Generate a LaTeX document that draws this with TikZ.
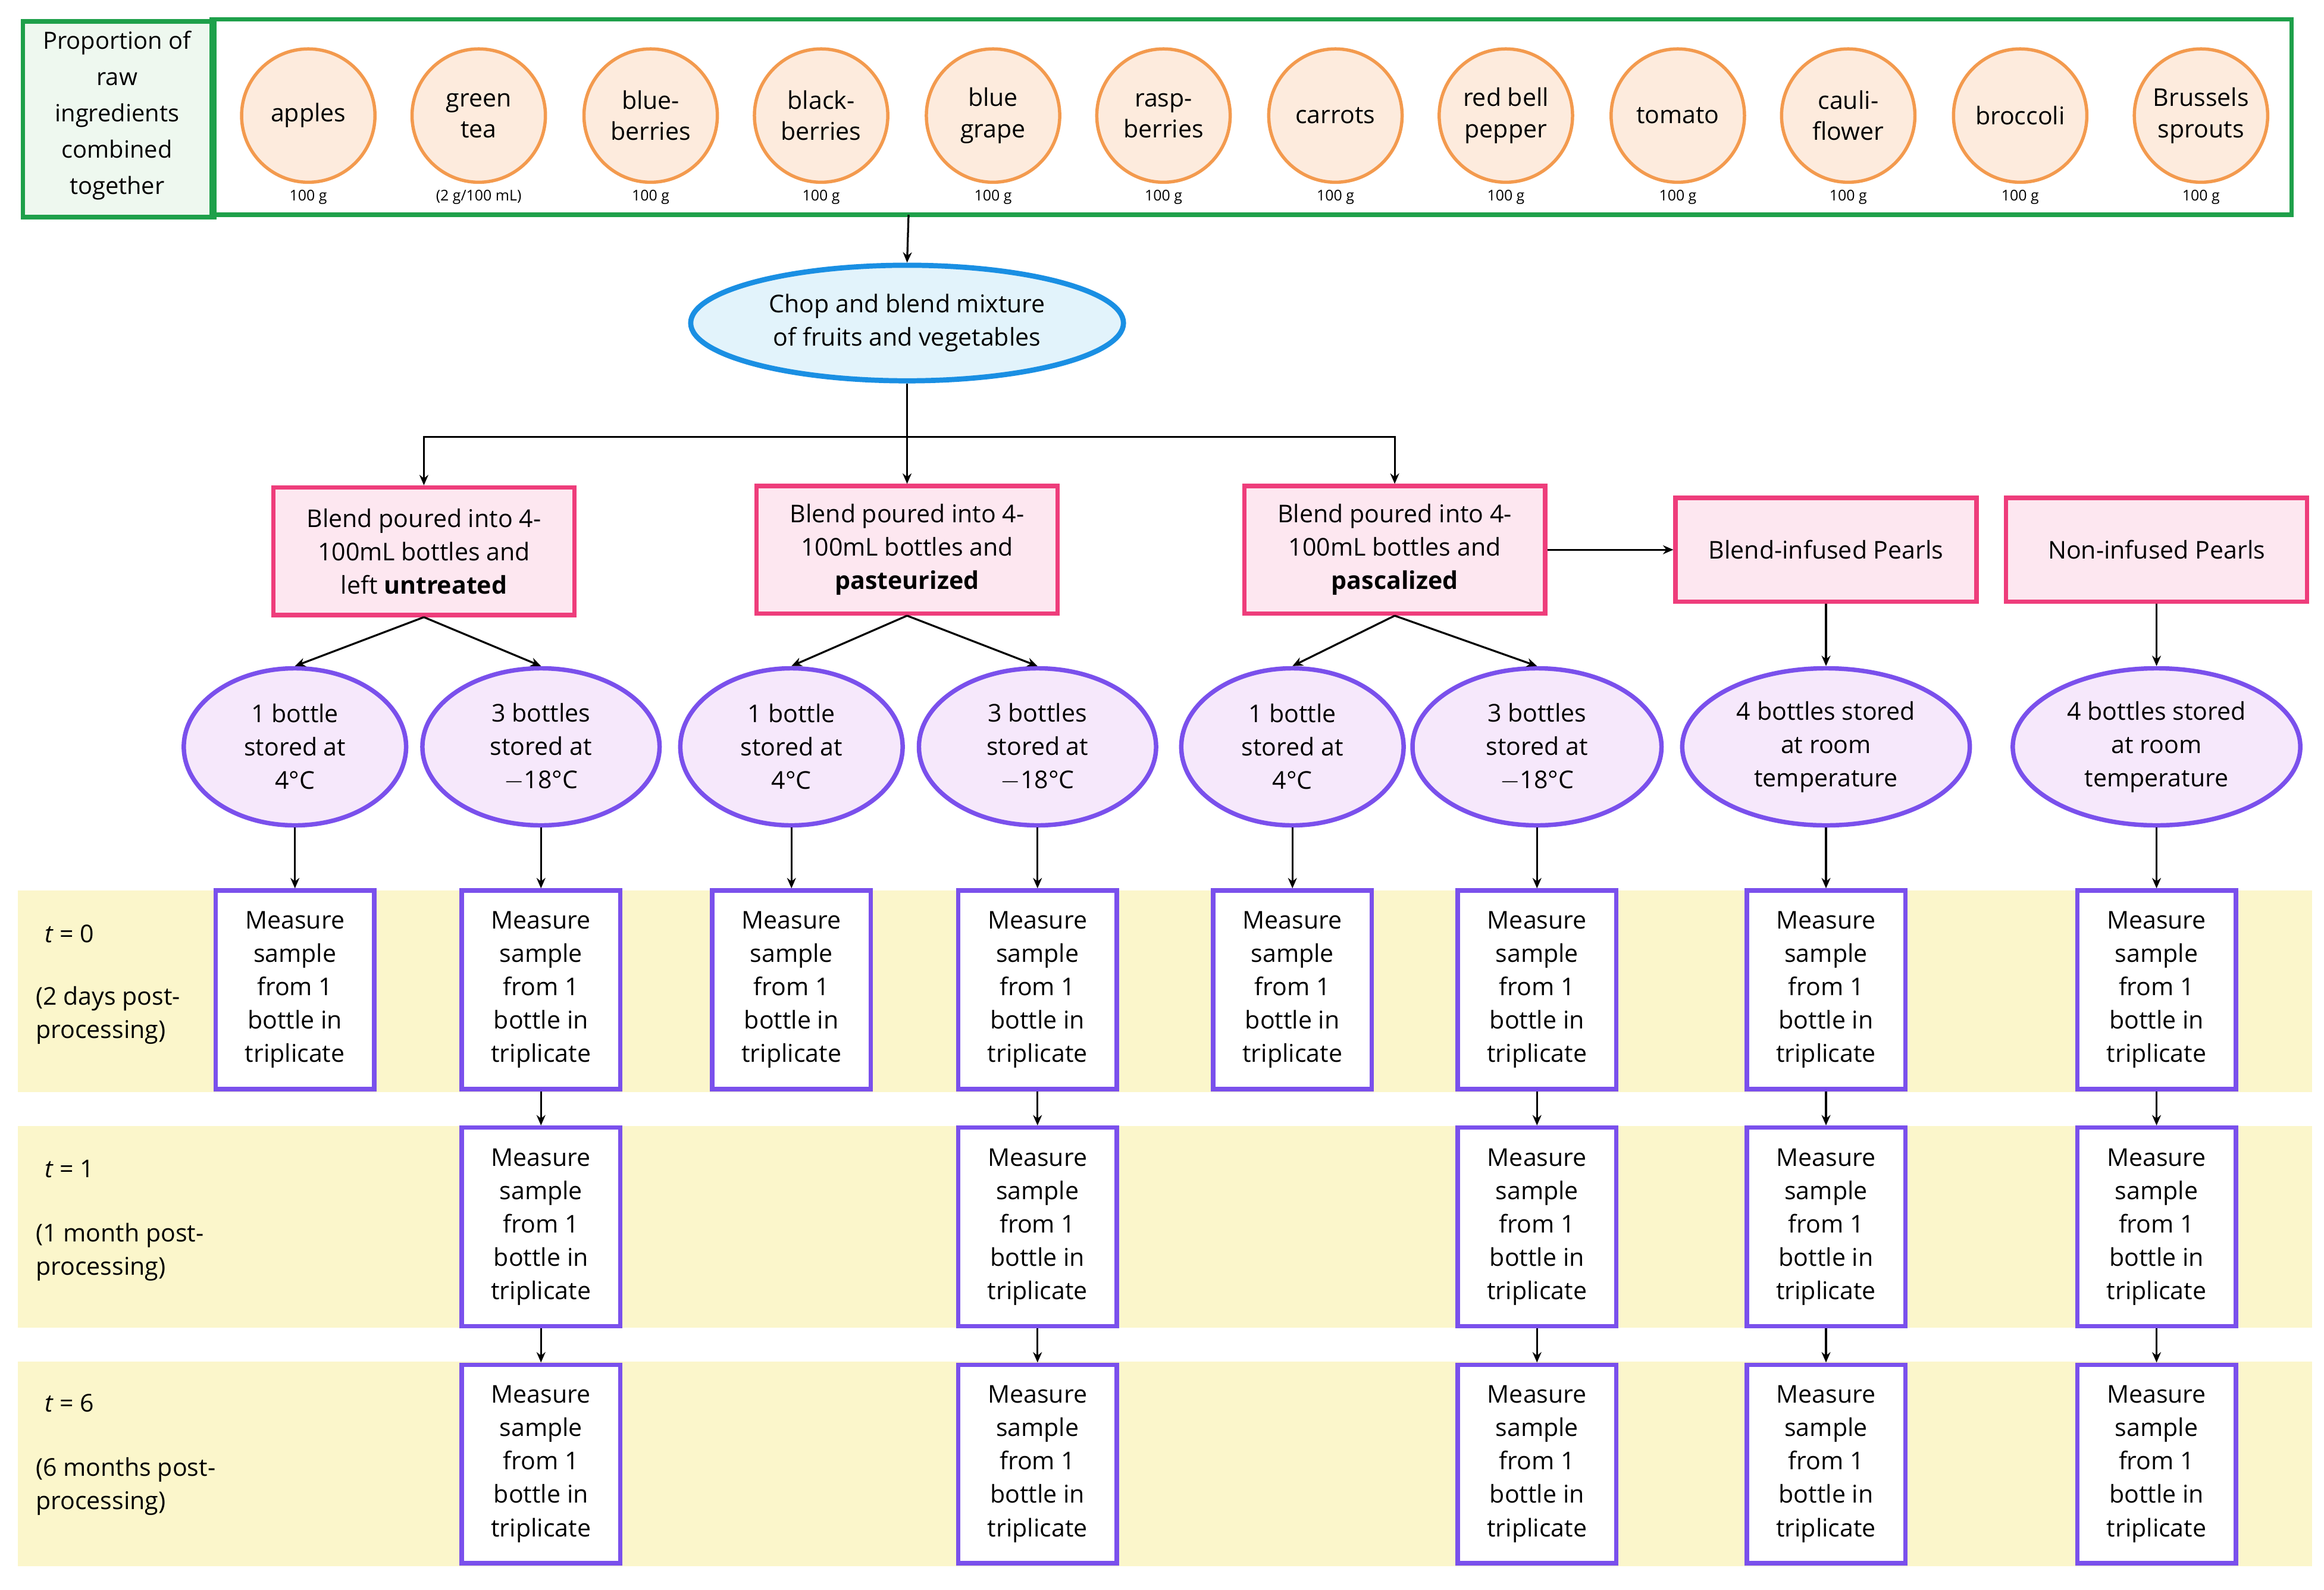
\documentclass[tikz,border=0pt]{standalone}
\usepackage{fontspec}
\setmainfont{Open Sans}
\usetikzlibrary{arrows.meta,shapes.geometric}
\definecolor{gr}{HTML}{1EA04A}
\definecolor{ing}{HTML}{FDEBDD}\definecolor{ingd}{HTML}{F39A4E}
\definecolor{blf}{HTML}{E2F3FB}\definecolor{bld}{HTML}{1A8FE3}
\definecolor{pkf}{HTML}{FDE7F0}\definecolor{pkd}{HTML}{EE3D7B}
\definecolor{puf}{HTML}{F6E8FB}\definecolor{pud}{HTML}{7A50EC}
\definecolor{yel}{HTML}{FBF6CB}
\definecolor{grf}{HTML}{EEF8EF}
\begin{document}
\begin{tikzpicture}[x=1pt,y=-1pt,
 every node/.style={font=\fontsize{16.5}{22.5}\selectfont,align=center,inner sep=0pt},
 ingc/.style={circle,draw=ingd,line width=2.2pt,fill=ing,minimum size=90pt,font=\fontsize{16.5}{21}\selectfont},
 wt/.style={font=\fontsize{10}{12}\selectfont},
 pk/.style={draw=pkd,line width=3pt,fill=pkf,minimum width=203pt},
 pe/.style={ellipse,draw=pud,line width=3pt,fill=puf,minimum width=150pt,minimum height=106pt},
 pew/.style={pe,minimum width=194pt},
 ms/.style={draw=pud,line width=3pt,fill=white,minimum width=107pt,minimum height=134pt},
 ar/.style={-{Stealth[length=7pt,width=6pt]},line width=1.3pt},
 ln/.style={line width=1.3pt}]
\useasboundingbox (0,0) rectangle (1568,1073);
\fill[white] (0,0) rectangle (1568,1073);
% bands
\foreach \a/\b in {601/737,760/896,919/1057}{\fill[yel] (12,\a) rectangle (1560,\b);}
% top
\node[draw=gr,line width=3pt,fill=grf,minimum width=129pt,minimum height=132pt,anchor=north west] (lab) at (14,13) {};
\node[font=\fontsize{16}{24.5}\selectfont] at (79,78) {Proportion of\\raw\\ingredients\\combined\\together};
\draw[gr,line width=3pt] (143,13) rectangle (1546,145);
\coordinate (topb) at (613,145);
\foreach \x/\t/\w [count=\i] in {208/apples/100 g,323/{green\\tea}/{(2 g/100 mL)},439/{blue-\\berries}/100 g,554/{black-\\berries}/100 g,670/{blue\\grape}/100 g,785/{rasp-\\berries}/100 g,901/carrots/100 g,1016/{red bell\\pepper}/100 g,1132/tomato/100 g,1247/{cauli-\\flower}/100 g,1363/broccoli/100 g,1485/{Brussels\\sprouts}/100 g}{
 \node[ingc] (c\i) at (\x,78) {\t};
 \node[wt] at (\x,133) {\w};}
\node[ellipse,draw=bld,line width=3.5pt,fill=blf,minimum width=292pt,minimum height=78pt] (chop) at (612,218) {Chop and blend mixture\\of fruits and vegetables};
\draw[ar] (topb) -- (chop.north);
% pink boxes
\node[pk,minimum height=86pt] (b1) at (286,372) {Blend poured into 4-\\100mL bottles and\\left \textbf{untreated}};
\node[pk,minimum height=86pt] (b2) at (612,371) {Blend poured into 4-\\100mL bottles and\\\textbf{pasteurized}};
\node[pk,minimum height=86pt] (b3) at (941,371) {Blend poured into 4-\\100mL bottles and\\\textbf{pascalized}};
\node[pk,minimum height=70pt] (b4) at (1232,371) {Blend-infused Pearls};
\node[pk,minimum height=70pt] (b5) at (1455,371) {Non-infused Pearls};
\coordinate (j) at (612,295);
\draw[ln] (chop.south) -- (j);
\draw[ar] (j) -- (b2.north);
\draw[ar] (j) -| (b1.north);
\draw[ar] (j) -| (b3.north);
\draw[ar] (b3.east) -- (b4.west);
% ellipses
\def\one{1 bottle\\stored at\\4°C}\def\three{3 bottles\\stored at\\$-$18°C}
\node[pe] (e1) at (199,504) {\one};
\node[pe,minimum width=160pt] (e2) at (365,504) {\three};
\node[pe] (e3) at (534,504) {\one};
\node[pe,minimum width=160pt] (e4) at (700,504) {\three};
\node[pe] (e5) at (872,504) {\one};
\node[pe,minimum width=168pt] (e6) at (1037,504) {\three};
\node[pew] (e7) at (1232,504) {4 bottles stored\\at room\\temperature};
\node[pew] (e8) at (1455,504) {4 bottles stored\\at room\\temperature};
\draw[ar] (b1.south) -- (e1.north); \draw[ar] (b1.south) -- (e2.north);
\draw[ar] (b2.south) -- (e3.north); \draw[ar] (b2.south) -- (e4.north);
\draw[ar] (b3.south) -- (e5.north); \draw[ar] (b3.south) -- (e6.north);
\draw[ar] (b4.south) -- (e7.north); \draw[ar] (b5.south) -- (e8.north);
\def\meas{Measure\\sample\\from 1\\bottle in\\triplicate}
\foreach \x [count=\i] in {199,365,534,700,872,1037,1232,1455}{
 \node[ms] (m\i) at (\x,668) {\meas};
 \draw[ar] (e\i.south) -- (m\i.north);}
\foreach \x/\i in {365/2,700/4,1037/6,1232/7,1455/8}{
 \node[ms] (n\i) at (\x,828) {\meas};
 \node[ms] (p\i) at (\x,988) {\meas};
 \draw[ar] (m\i.south) -- (n\i.north);
 \draw[ar] (n\i.south) -- (p\i.north);}
% time labels
\node[anchor=west] at (30,630) {\textit{t} = 0};
\node[anchor=west,align=left] at (24,685) {(2 days post-\\processing)};
\node[anchor=west] at (30,789) {\textit{t} = 1};
\node[anchor=west,align=left] at (24,845) {(1 month post-\\processing)};
\node[anchor=west] at (30,947) {\textit{t} = 6};
\node[anchor=west,align=left] at (24,1003) {(6 months post-\\processing)};
\end{tikzpicture}
\end{document}
